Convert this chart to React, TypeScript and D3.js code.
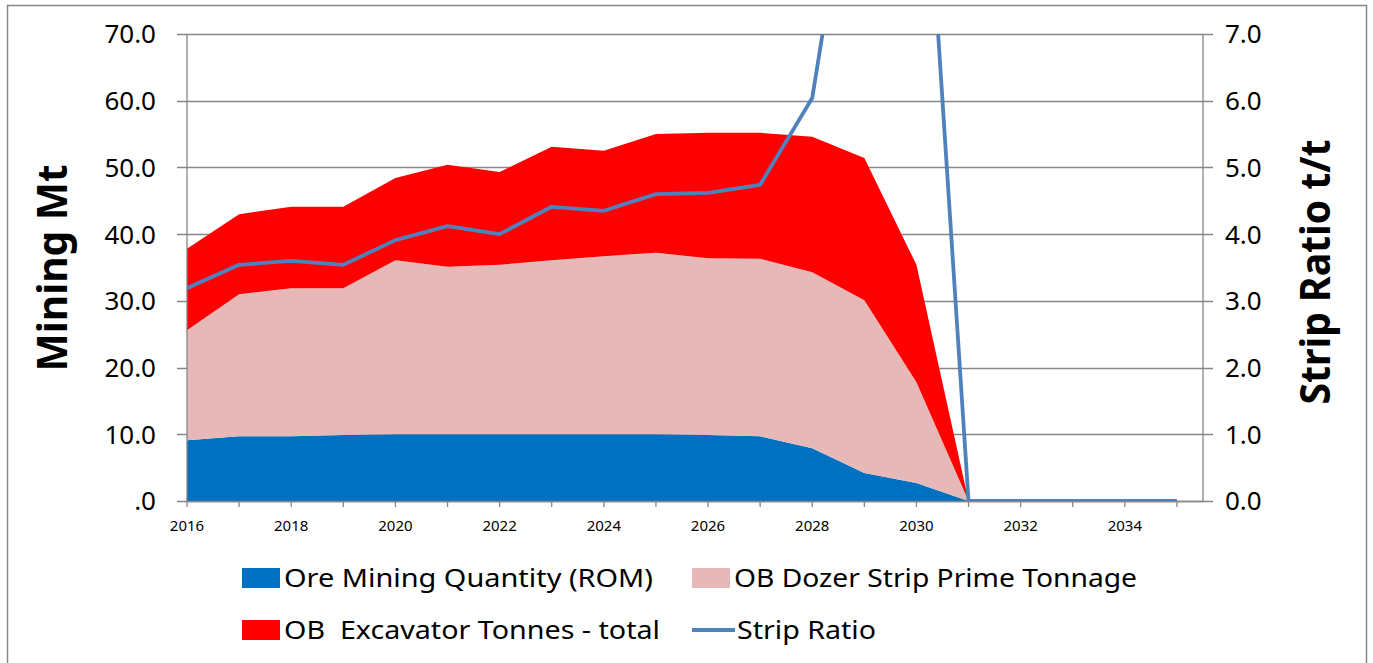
import * as d3 from 'd3'

const years = [2016, 2017, 2018, 2019, 2020, 2021, 2022, 2023, 2024, 2025, 2026, 2027, 2028, 2029, 2030, 2031, 2032, 2033, 2034, 2035]
const oreMining = [9.1, 9.7, 9.7, 9.9, 10.0, 10.0, 10.0, 10.0, 10.0, 10.0, 9.9, 9.7, 7.9, 4.2, 2.7, 0, 0, 0, 0, 0]
const dozerStrip = [16.5, 21.3, 22.2, 22.0, 26.1, 25.1, 25.4, 26.1, 26.7, 27.2, 26.5, 26.6, 26.4, 25.9, 15.1, 0, 0, 0, 0, 0]
const excavator = [12.2, 12.0, 12.2, 12.2, 12.3, 15.3, 13.9, 17.0, 15.8, 17.8, 18.8, 18.9, 20.3, 21.3, 17.6, 0, 0, 0, 0, 0]
const stripRatio = [3.19, 3.54, 3.6, 3.54, 3.91, 4.12, 4.0, 4.41, 4.35, 4.6, 4.62, 4.74, 6.04, 10.9, 12.0, 0, 0, 0, 0, 0]
const leftTicks = [0, 10, 20, 30, 40, 50, 60, 70]
const rightTicks = [0, 1, 2, 3, 4, 5, 6, 7]

const seriesNames = ['Ore Mining Quantity (ROM)', 'OB Dozer Strip Prime Tonnage', 'OB  Excavator Tonnes - total', 'Strip Ratio']
const colors = ['#0070C0', '#E6B9B8', '#FF0000', '#4F81BD']

const W = 1373
const H = 663
const left = 187
const right = 1203
const top = 34
const bottom = 501
const font = "'Noto Sans', 'Open Sans', sans-serif"
const grid = '#868686'

export default function App() {
  const x = d3.scaleLinear().domain([2016, 2035.5]).range([left, right])
  const yL = d3.scaleLinear().domain([0, 70]).range([bottom, top])
  const yR = d3.scaleLinear().domain([0, 7]).range([bottom, top])

  const rows = years.map((yr, i) => ({ year: yr, ore: oreMining[i], dozer: dozerStrip[i], exc: excavator[i] }))
  const keys = ['ore', 'dozer', 'exc']
  const stacked = d3.stack<any>().keys(keys)(rows)

  const area = d3.area<any>()
    .x((d: any) => x(d.data.year))
    .y0((d: any) => yL(d[0]))
    .y1((d: any) => yL(d[1]))

  const line = d3.line<number>()
    .x((_d: number, i: number) => x(years[i]))
    .y((d: number) => yR(d))

  const legend = [
    { x: 242, y: 578, kind: 'rect', c: colors[0], label: seriesNames[0], len: 369 },
    { x: 692, y: 578, kind: 'rect', c: colors[1], label: seriesNames[1], len: 403 },
    { x: 242, y: 630, kind: 'rect', c: colors[2], label: seriesNames[2], len: 376 },
    { x: 692, y: 630, kind: 'line', c: colors[3], label: seriesNames[3], len: 139 },
  ]

  return (
    <svg width={W} height={H} style={{ position: 'absolute', left: 0, top: 0, background: '#fff' }} fontFamily={font}>
      <defs>
        <clipPath id="plot">
          <rect x={left} y={top} width={right - left} height={bottom - top} />
        </clipPath>
      </defs>
      <rect x={7.5} y={5.5} width={1359} height={664} fill="#fff" stroke={grid} strokeWidth={1.5} />

      {/* gridlines with outside ticks on both sides */}
      {leftTicks.map((t) => (
        <line key={t} x1={177} x2={1213} y1={Math.round(yL(t)) + 0.5} y2={Math.round(yL(t)) + 0.5} stroke={grid} strokeWidth={1.3} />
      ))}

      {stacked.map((s: any, i: number) => (
        <path key={i} d={area(s) || ''} fill={colors[i]} />
      ))}

      <line x1={left} x2={left} y1={top} y2={bottom} stroke={grid} strokeWidth={1.3} />
      <line x1={right} x2={right} y1={top} y2={bottom} stroke={grid} strokeWidth={1.3} />
      <line x1={left} x2={right} y1={bottom + 0.5} y2={bottom + 0.5} stroke={grid} strokeWidth={1.3} />
      {years.map((yr) => (
        <line key={yr} x1={x(yr)} x2={x(yr)} y1={bottom} y2={bottom + 6} stroke={grid} strokeWidth={1.3} />
      ))}

      <path d={line(stripRatio) || ''} fill="none" stroke={colors[3]} strokeWidth={3.8} strokeLinejoin="round" clipPath="url(#plot)" />

      {/* left axis labels */}
      {leftTicks.map((t) => (
        <text key={t} x={156} y={yL(t)} dy="0.36em" textAnchor="end" fontSize={26} fill="#000">
          {t === 0 ? '.0' : t.toFixed(1)}
        </text>
      ))}
      {rightTicks.map((t) => (
        <text key={t} x={1225} y={yR(t)} dy="0.36em" textAnchor="start" fontSize={26} fill="#000">
          {t.toFixed(1)}
        </text>
      ))}
      {years.filter((yr) => yr % 2 === 0).map((yr) => (
        <text key={yr} x={x(yr)} y={526} dy="0.36em" textAnchor="middle" fontSize={15} fill="#000">
          {yr}
        </text>
      ))}

      <text transform="translate(52,268) rotate(-90)" textAnchor="middle" dy="0.36em" fontSize={42} fontWeight="bold" fill="#000" textLength={207} lengthAdjust="spacingAndGlyphs">
        Mining Mt
      </text>
      <text transform="translate(1315,272) rotate(-90)" textAnchor="middle" dy="0.36em" fontSize={42} fontWeight="bold" fill="#000" textLength={265} lengthAdjust="spacingAndGlyphs">
        Strip Ratio t/t
      </text>

      {legend.map((l, i) => (
        <g key={i}>
          {l.kind === 'rect'
            ? <rect x={l.x} y={l.y - 10} width={38} height={20} fill={l.c} />
            : <line x1={l.x} x2={l.x + 43} y1={l.y} y2={l.y} stroke={l.c} strokeWidth={3.8} />}
          <text x={l.kind === 'rect' ? l.x + 42 : l.x + 45} y={l.y} dy="0.36em" fontSize={26} fill="#000" textLength={l.len} lengthAdjust="spacingAndGlyphs" style={{ whiteSpace: 'pre' }}>
            {l.label}
          </text>
        </g>
      ))}
    </svg>
  )
}
